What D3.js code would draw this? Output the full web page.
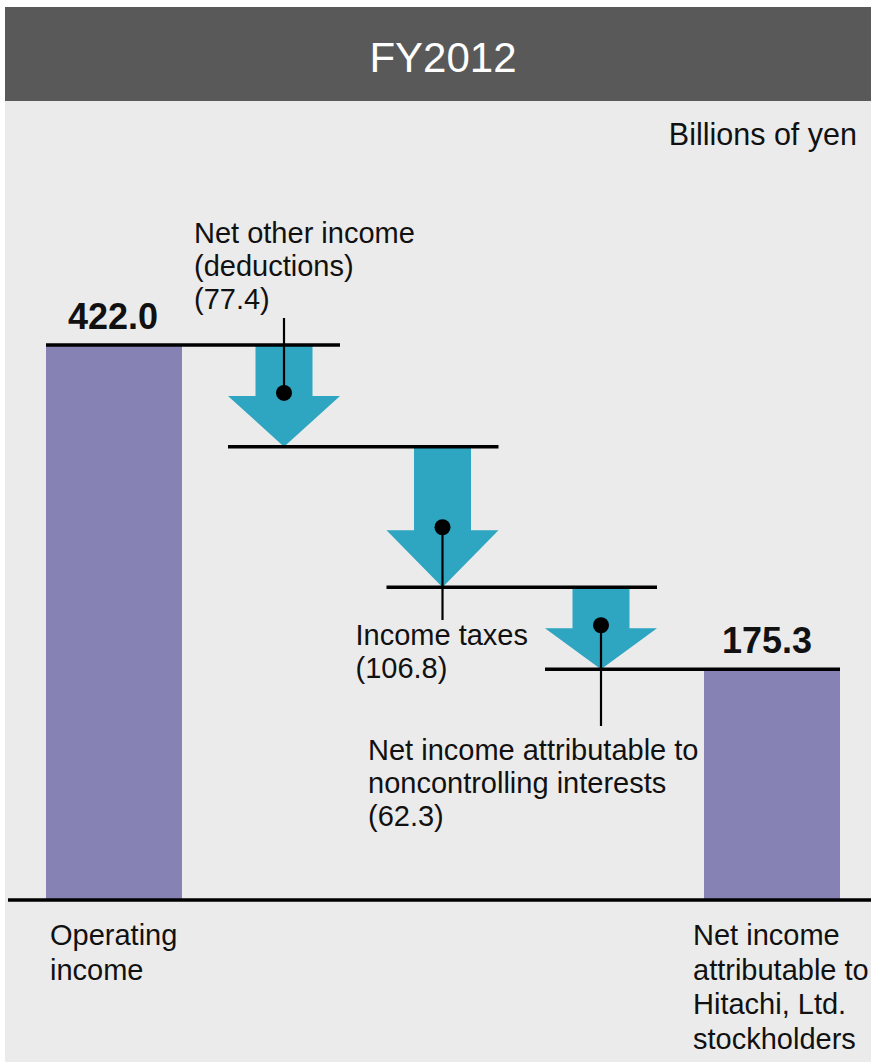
<!DOCTYPE html>
<html>
<head>
<meta charset="utf-8">
<script src="https://cdn.jsdelivr.net/npm/d3@7"></script>
<style>
  body { margin: 0; background: #fff; }
  svg text { font-family: "Liberation Sans", Arial, sans-serif; fill: #111; }
  .title { fill: #fff; font-size: 42px; }
  .lbl { font-size: 29px; }
  .unit { font-size: 30.5px; }
  .total { font-size: 36px; font-weight: bold; }
</style>
</head>
<body>
<script>
// waterfall data, billions of yen
var categories = ["Operating income", "Net other income (deductions)", "Income taxes",
  "Net income attributable to noncontrolling interests", "Net income attributable to Hitachi, Ltd. stockholders"];
var values = [422.0, -77.4, -106.8, -62.3, 175.3];
var kinds = ["total", "delta", "delta", "delta", "total"];
var valueText = ["422.0", "(77.4)", "(106.8)", "(62.3)", "175.3"];
var labelLines = [
  ["Operating", "income"],
  ["Net other income", "(deductions)"],
  ["Income taxes"],
  ["Net income attributable to", "noncontrolling interests"],
  ["Net income", "attributable to", "Hitachi, Ltd.", "stockholders"]
];

var W = 871, H = 1062;
var barW = 136, headW = 112, shaftW = 57;

var svg = d3.select("body").append("svg").attr("width", W).attr("height", H);

// backgrounds
svg.append("rect").attr("x", 5).attr("y", 7).attr("width", W - 5).attr("height", H - 7).attr("fill", "#ebebeb");
svg.append("rect").attr("x", 5).attr("y", 7).attr("width", W - 5).attr("height", 94).attr("fill", "#595959");
svg.append("text").attr("class", "title").attr("x", 443).attr("y", 72)
  .attr("text-anchor", "middle").text("FY2012");
svg.append("text").attr("class", "unit").attr("x", 857).attr("y", 145)
  .attr("text-anchor", "end").text("Billions of yen");

// scales (outer steps are a bit wider than the inner ones)
var idx = d3.scalePoint().domain(categories).range([0, categories.length - 1]);
var xs = d3.scaleLinear().domain([0, 1, 3, 4]).range([114, 284, 601, 772]);
var x = function(c) { return xs(idx(c)); };
var y = d3.scaleLinear().domain([0, 422]).range([900, 345]);

// running levels
var steps = [];
var level = 0;
values.forEach(function(v, i) {
  if (kinds[i] == "total") {
    steps.push({cat: categories[i], kind: "total", from: 0, to: v, i: i});
    level = v;
  } else {
    steps.push({cat: categories[i], kind: "delta", from: level, to: level + v, i: i});
    level = level + v;
  }
});

function halfW(d) { return d.kind == "total" ? barW / 2 : headW / 2; }

// bars
var totals = steps.filter(function(d) { return d.kind == "total"; });
svg.selectAll(".bar").data(totals).enter().append("rect")
  .attr("class", "bar")
  .attr("x", function(d) { return x(d.cat) - barW / 2; })
  .attr("y", function(d) { return y(d.to); })
  .attr("width", barW)
  .attr("height", function(d) { return y(0) - y(d.to); })
  .attr("fill", "#8682b4");

// arrows
var deltas = steps.filter(function(d) { return d.kind == "delta"; });
function headH(d) { return Math.min(57, (y(d.to) - y(d.from)) * 0.5); }
svg.selectAll(".arrow").data(deltas).enter().append("path")
  .attr("class", "arrow")
  .attr("fill", "#2ea5c1")
  .attr("d", function(d) {
    var cx = x(d.cat), top = y(d.from), tip = y(d.to), hy = tip - headH(d);
    return "M" + (cx - shaftW / 2) + "," + top +
      "L" + (cx + shaftW / 2) + "," + top +
      "L" + (cx + shaftW / 2) + "," + hy +
      "L" + (cx + headW / 2) + "," + hy +
      "L" + cx + "," + tip +
      "L" + (cx - headW / 2) + "," + hy +
      "L" + (cx - shaftW / 2) + "," + hy + "Z";
  });

// connector lines between steps
var links = d3.pairs(steps);
svg.selectAll(".link").data(links).enter().append("line")
  .attr("x1", function(p) { return x(p[0].cat) - halfW(p[0]); })
  .attr("x2", function(p) { return x(p[1].cat) + halfW(p[1]); })
  .attr("y1", function(p) { return y(p[0].to); })
  .attr("y2", function(p) { return y(p[0].to); })
  .attr("stroke", "#000").attr("stroke-width", 3.5);

// baseline
svg.append("line").attr("x1", 8).attr("x2", W).attr("y1", y(0)).attr("y2", y(0))
  .attr("stroke", "#000").attr("stroke-width", 3.5);

// leader lines + dots + labels for the deltas
var leader = [
  {end: 318, dx: -90, base: 243},
  {end: 620, dx: -87, base: 645},
  {end: 726, dx: -233, base: 760}
];
deltas.forEach(function(d, k) {
  var cx = x(d.cat), dotY = y(d.to) - headH(d) - 3, L = leader[k];
  svg.append("line").attr("x1", cx).attr("x2", cx).attr("y1", dotY).attr("y2", L.end)
    .attr("stroke", "#000").attr("stroke-width", 2.2);
  svg.append("circle").attr("cx", cx).attr("cy", dotY).attr("r", 8).attr("fill", "#000");
  var t = svg.append("text").attr("class", "lbl").attr("x", cx + L.dx).attr("y", L.base);
  labelLines[d.i].concat([valueText[d.i]]).forEach(function(s, j) {
    t.append("tspan").attr("x", cx + L.dx).attr("y", L.base + j * 33).text(s);
  });
});

// totals: value on top, category under baseline
var catX = [50, 693];
totals.forEach(function(d, k) {
  svg.append("text").attr("class", "total").attr("x", x(d.cat) - (k == 0 ? 1 : 5)).attr("y", y(d.to) - 16)
    .attr("text-anchor", "middle").text(valueText[d.i]);
  var t = svg.append("text").attr("class", "lbl");
  labelLines[d.i].forEach(function(s, j) {
    t.append("tspan").attr("x", catX[k]).attr("y", 945 + j * 34.5).text(s);
  });
});
</script>
</body>
</html>
